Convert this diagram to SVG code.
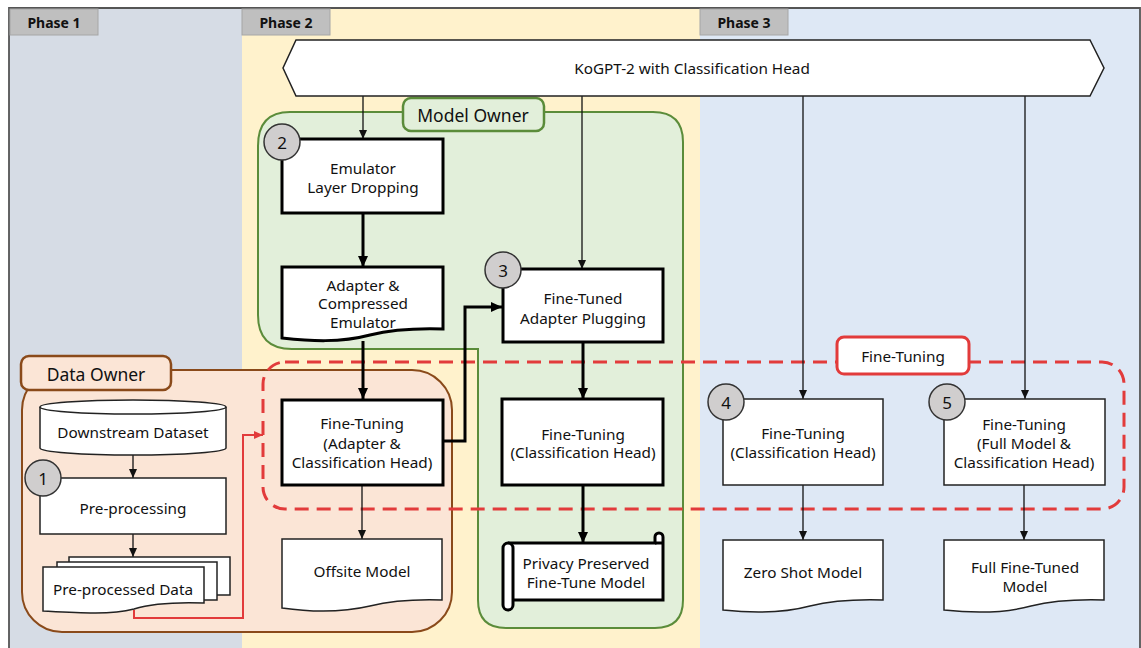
<svg xmlns="http://www.w3.org/2000/svg" width="1141" height="648" viewBox="0 0 1141 648">
<defs>
<style>
text{font-family:"Noto Sans","Open Sans","DejaVu Sans",sans-serif;fill:#111;}
.t{font-size:15.3px;text-anchor:middle;dominant-baseline:central;}
.ph{font-size:14px;font-weight:bold;text-anchor:middle;dominant-baseline:central;}
.lbl{font-size:17.5px;text-anchor:middle;dominant-baseline:central;}
.num{font-size:17px;text-anchor:middle;dominant-baseline:central;}
.tab{fill:#bfbfbf;stroke:#a6a6a6;stroke-width:1;}
.box{fill:#fff;stroke:#222;stroke-width:1.5;}
.bold{fill:#fff;stroke:#000;stroke-width:3;}
.circ{fill:#d0cece;stroke:#333;stroke-width:1.5;}
.thin{fill:none;stroke:#111;stroke-width:1.3;marker-end:url(#ah);}
.thick{fill:none;stroke:#000;stroke-width:3;marker-end:url(#ahb);}
.red{fill:none;stroke:#e23b3b;stroke-width:2;marker-end:url(#ahr);}
</style>
<marker id="ah" markerUnits="userSpaceOnUse" markerWidth="10" markerHeight="10" refX="9" refY="5" orient="auto"><path d="M0,1 L9,5 L0,9 z" fill="#111"/></marker>
<marker id="ahb" markerUnits="userSpaceOnUse" markerWidth="12" markerHeight="12" refX="11" refY="6" orient="auto"><path d="M0,1 L11,6 L0,11 z" fill="#000"/></marker>
<marker id="ahr" markerUnits="userSpaceOnUse" markerWidth="10" markerHeight="10" refX="9" refY="5" orient="auto"><path d="M0,1 L9,5 L0,9 z" fill="#e23b3b"/></marker>
</defs>

<g id="background">
<rect x="0" y="0" width="1141" height="648" fill="#fff"/>
<rect x="9" y="8" width="233" height="645" fill="#d6dce5"/>
<rect x="242" y="8" width="458" height="645" fill="#fff2cc"/>
<rect x="700" y="8" width="440" height="645" fill="#dee8f5"/>
<path d="M9,653 V8 H1140 V653" fill="none" stroke="#555" stroke-width="1.8"/>
</g>

<g id="phase1"><rect class="tab" x="10" y="9" width="88" height="26"/><text class="ph" x="54" y="22">Phase 1</text></g>
<g id="phase2"><rect class="tab" x="242" y="9" width="88" height="26"/><text class="ph" x="286" y="22">Phase 2</text></g>
<g id="phase3"><rect class="tab" x="700" y="9" width="88" height="26"/><text class="ph" x="744" y="22">Phase 3</text></g>

<g id="model-owner-region">
<path d="M290,112 H653 Q683,112 683,142 V600 Q683,628 655,628 H506 Q478,628 478,600 V349 H292 Q258,349 258,315 V146 Q258,112 290,112 Z" fill="#e2efda" stroke="#5b8c3a" stroke-width="2"/>
</g>

<g id="data-owner-region">
<rect x="22" y="370" width="430" height="262" rx="40" ry="40" fill="#fbe5d6" stroke="#8a4a1a" stroke-width="2"/>
</g>

<g id="fine-tuning-region">
<rect x="263" y="362" width="861" height="147" rx="22" ry="22" fill="none" stroke="#e23b3b" stroke-width="3" stroke-dasharray="14 8"/>
</g>

<g id="model-owner-label">
<rect x="403" y="98" width="141" height="33" rx="8" fill="#e2efda" stroke="#5b8c3a" stroke-width="2.5"/>
<text class="lbl" x="473" y="115">Model Owner</text>
</g>

<g id="data-owner-label">
<rect x="21" y="356" width="150" height="34" rx="8" fill="#fbe5d6" stroke="#8a4a1a" stroke-width="2.5"/>
<text class="lbl" x="96" y="374">Data Owner</text>
</g>

<g id="connectors">
<path class="thin" d="M363,96 V139"/>
<path class="thick" d="M363,214 V267"/>
<path class="thick" d="M363,341 V399"/>
<path class="thick" d="M443,441 H465 V307 H502"/>
<path class="thin" d="M582,96 V269"/>
<path class="thick" d="M583,343 V399"/>
<path class="thick" d="M583,485 V543"/>
<path class="thin" d="M362,485 V539"/>
<path class="thin" d="M133,455 V478"/>
<path class="thin" d="M133,534 V557"/>
<path class="red" d="M134,610 V618 H243 V435 H263"/>
<path class="thin" d="M803,96 V399"/>
<path class="thin" d="M1025,96 V399"/>
<path class="thin" d="M803,485 V540"/>
<path class="thin" d="M1024,485 V540"/>
</g>

<g id="banner">
<path d="M296,40 H1090 L1104,68 L1090,96 H296 L283,68 Z" fill="#fff" stroke="#222" stroke-width="1.5"/>
<text class="t" x="692" y="68">KoGPT-2 with Classification Head</text>
</g>

<g id="downstream-dataset">
<path d="M40,407 V448 A93,7 0 0 0 226,448 V407" fill="#fff" stroke="#222" stroke-width="1.5"/>
<ellipse cx="133" cy="407" rx="93" ry="7" fill="#fff" stroke="#222" stroke-width="1.5"/>
<text class="t" x="133" y="432">Downstream Dataset</text>
</g>

<g id="pre-processing">
<rect class="box" x="40" y="478" width="186" height="56"/>
<circle class="circ" cx="43" cy="478" r="18"/>
<text class="num" x="43" y="478">1</text>
<text class="t" x="133" y="508">Pre-processing</text>
</g>

<g id="pre-processed-data">
<rect class="box" x="69" y="557" width="161" height="38"/>
<rect class="box" x="57" y="562" width="160" height="38"/>
<path class="box" d="M43,567 H204 V603 C175,602 150,604 134,609 C110,615 80,613 43,611 Z"/>
<text class="t" x="123" y="589">Pre-processed Data</text>
</g>

<g id="emulator-layer-dropping">
<rect class="bold" x="282" y="139" width="161" height="74"/>
<circle class="circ" cx="282" cy="142" r="18"/>
<text class="num" x="282" y="142">2</text>
<text class="t" x="363" y="168">Emulator</text>
<text class="t" x="363" y="187">Layer Dropping</text>
</g>

<g id="adapter-compressed-emulator">
<path class="bold" d="M282,267 H443 V329 C410,328 390,330 370,335 C340,343 310,341 282,338 Z"/>
<text class="t" x="363" y="285">Adapter &amp;</text>
<text class="t" x="363" y="303">Compressed</text>
<text class="t" x="363" y="322">Emulator</text>
</g>

<g id="fine-tuning-adapter">
<rect class="bold" x="282" y="400" width="161" height="85"/>
<text class="t" x="362" y="423">Fine-Tuning</text>
<text class="t" x="362" y="443">(Adapter &amp;</text>
<text class="t" x="362" y="462">Classification Head)</text>
</g>

<g id="offsite-model">
<path class="box" d="M282,539 H442 V600 C410,599 390,601 370,606 C340,613 310,612 282,608 Z"/>
<text class="t" x="362" y="571">Offsite Model</text>
</g>

<g id="fine-tuned-adapter-plugging">
<rect class="bold" x="503" y="269" width="160" height="73"/>
<circle class="circ" cx="503" cy="270" r="18"/>
<text class="num" x="503" y="270">3</text>
<text class="t" x="583" y="298">Fine-Tuned</text>
<text class="t" x="583" y="318">Adapter Plugging</text>
</g>

<g id="fine-tuning-classification-3">
<rect class="bold" x="502" y="399" width="161" height="86"/>
<text class="t" x="583" y="434">Fine-Tuning</text>
<text class="t" x="583" y="452">(Classification Head)</text>
</g>

<g id="privacy-preserved-model">
<path class="bold" d="M508,543 H655 V537 A4,4 0 0 1 663,537 V600 H513"/>
<path d="M655,543 H663" stroke="#000" stroke-width="3"/>
<rect x="503" y="543" width="10" height="67" rx="5" fill="#fff" stroke="#000" stroke-width="3"/>
<text class="t" x="586" y="563">Privacy Preserved</text>
<text class="t" x="586" y="582">Fine-Tune Model</text>
</g>

<g id="fine-tuning-label">
<rect x="837" y="337" width="132" height="37" rx="7" fill="#fff" stroke="#e23b3b" stroke-width="3"/>
<text class="t" x="903" y="356">Fine-Tuning</text>
</g>

<g id="fine-tuning-classification-4">
<rect class="box" x="723" y="399" width="160" height="86"/>
<circle class="circ" cx="726" cy="402" r="18"/>
<text class="num" x="726" y="402">4</text>
<text class="t" x="803" y="433">Fine-Tuning</text>
<text class="t" x="803" y="452">(Classification Head)</text>
</g>

<g id="fine-tuning-full-5">
<rect class="box" x="944" y="399" width="161" height="86"/>
<circle class="circ" cx="947" cy="402" r="18"/>
<text class="num" x="947" y="402">5</text>
<text class="t" x="1024" y="424">Fine-Tuning</text>
<text class="t" x="1024" y="443">(Full Model &amp;</text>
<text class="t" x="1024" y="462">Classification Head)</text>
</g>

<g id="zero-shot-model">
<path class="box" d="M723,540 H883 V600 C850,599 830,601 810,606 C780,614 750,613 723,610 Z"/>
<text class="t" x="803" y="572">Zero Shot Model</text>
</g>

<g id="full-fine-tuned-model">
<path class="box" d="M944,540 H1104 V600 C1071,599 1051,601 1031,606 C1001,614 971,613 944,610 Z"/>
<text class="t" x="1025" y="567">Full Fine-Tuned</text>
<text class="t" x="1025" y="586">Model</text>
</g>
</svg>
